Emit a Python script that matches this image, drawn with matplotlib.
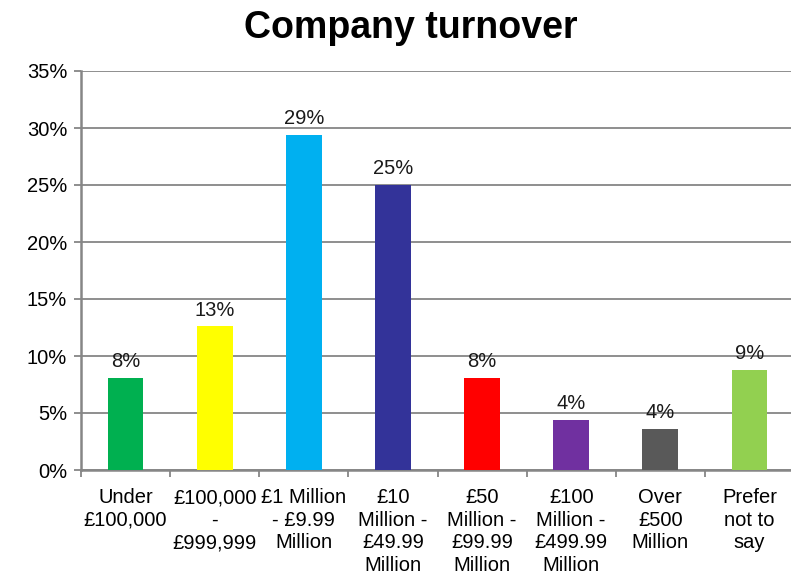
import matplotlib
matplotlib.use('Agg')
import matplotlib.pyplot as plt
from matplotlib.ticker import FuncFormatter, FixedLocator

categories = ['Under\n£100,000', '£100,000\n-\n£999,999', '£1 Million\n- £9.99\nMillion',
              '£10\nMillion -\n£49.99\nMillion', '£50\nMillion -\n£99.99\nMillion',
              '£100\nMillion -\n£499.99\nMillion', 'Over\n£500\nMillion', 'Prefer\nnot to\nsay']
values = [8.1, 12.6, 29.4, 25.0, 8.1, 4.4, 3.6, 8.8]
bar_colors = ['#00B050', '#FFFF00', '#00B0F0', '#333399', '#FF0000', '#7030A0', '#595959', '#92D050']
grid_color = '#868686'

plt.rcParams['font.family'] = ['Liberation Sans', 'DejaVu Sans']

fig = plt.figure(figsize=(7.91, 5.75), dpi=100)
ax = fig.add_axes([81 / 791, 1 - 470 / 575, 713 / 791, 399 / 575])

x = range(len(values))
bars = ax.bar(x, values, width=0.4, color=bar_colors, zorder=3)
for b, v in zip(bars, values):
    ax.text(b.get_x() + b.get_width() / 2, v + 0.6, f'{v:.0f}%', ha='center', va='bottom',
            fontsize=14.5, color='#1a1a1a')

ax.set_xlim(-0.5, len(values) - 0.5)
ax.set_ylim(0, 35)
ax.set_yticks(range(0, 36, 5))
ax.yaxis.set_major_formatter(FuncFormatter(lambda v, p: f'{v:.0f}%'))
ax.grid(axis='y', color=grid_color, linewidth=1.3, zorder=0)

ax.set_xticks(list(x))
ax.set_xticklabels(categories, fontsize=14.5, linespacing=1.24, va='top')
ax.xaxis.set_minor_locator(FixedLocator([i - 0.5 for i in range(len(values) + 1)]))
ax.tick_params(axis='x', which='major', length=0, pad=13)
ax.tick_params(axis='x', which='minor', length=5, width=1.3, color=grid_color)
ax.tick_params(axis='y', length=5, width=1.3, color=grid_color, labelsize=14.5, pad=5)

for s in ['top', 'right']:
    ax.spines[s].set_visible(False)
for s in ['left', 'bottom']:
    ax.spines[s].set_color(grid_color)
    ax.spines[s].set_linewidth(1.8)

fig.text(411 / 791, 1 - 28 / 575, 'Company turnover', ha='center', va='center',
         fontsize=27, fontweight='bold')

fig.savefig('out.png', dpi=100)
